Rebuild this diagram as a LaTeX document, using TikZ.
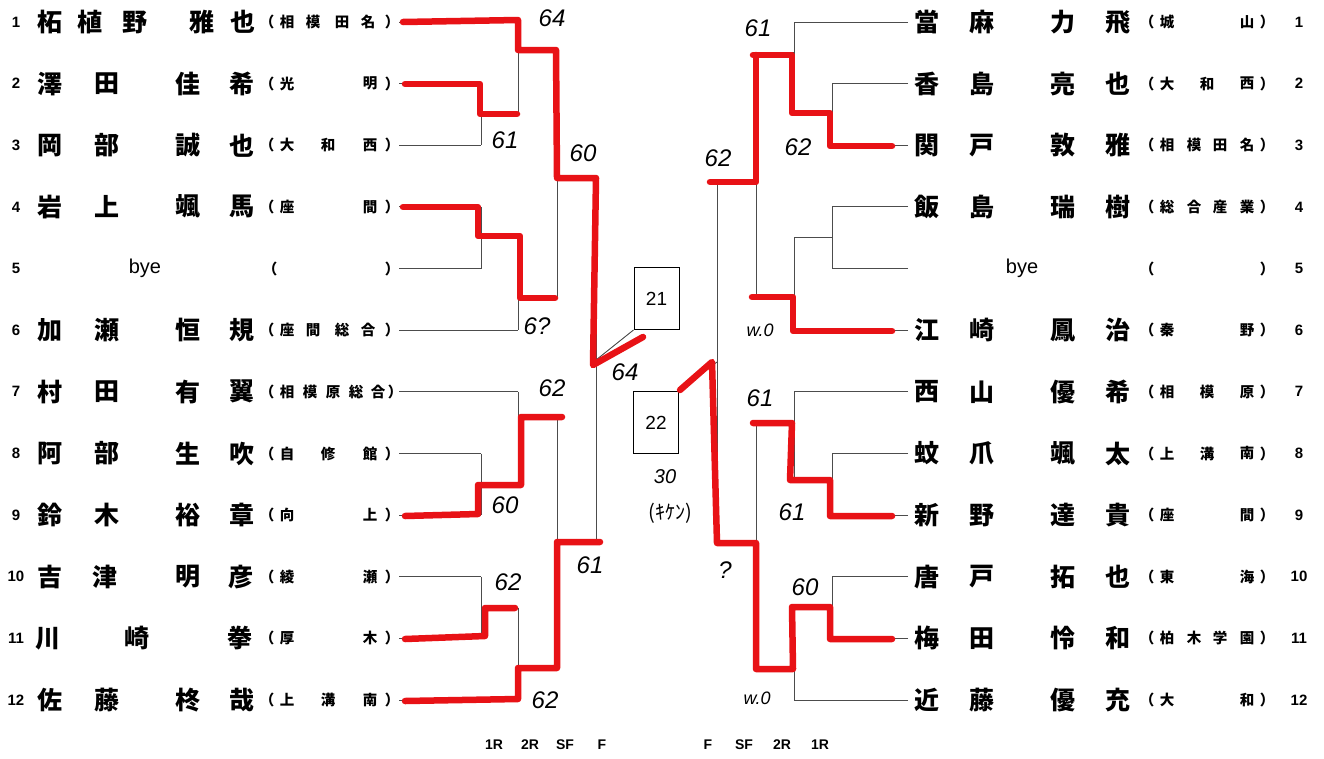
\documentclass[tikz,border=0pt]{standalone}
\usepackage{fontspec}
\setmainfont{Liberation Sans}
\newfontfamily\jp{Noto Sans CJK JP}
\definecolor{pen}{RGB}{232,18,22}
\begin{document}
\begin{tikzpicture}[x=1pt,y=-1pt,
  thin/.style={line width=0.9pt, draw=black!70},
  win/.style={line width=6.5pt, draw=pen, line cap=round, line join=round},
  nm/.style={font=\jp\bfseries\fontsize{25}{25}\selectfont, inner sep=0pt},
  sc/.style={font=\jp\bfseries\fontsize{14.5}{14.5}\selectfont, inner sep=0pt},
  num/.style={font=\bfseries\fontsize{15}{15}\selectfont, inner sep=0pt},
  byeT/.style={font=\fontsize{20}{20}\selectfont, inner sep=0pt},
  score/.style={font=\itshape\fontsize{24}{24}\selectfont, inner sep=0pt},
  rnd/.style={font=\bfseries\fontsize{14}{14}\selectfont, inner sep=0pt},
  boxn/.style={draw=black, line width=1pt, minimum width=45pt, minimum height=62pt, inner sep=0pt, font=\fontsize{19}{19}\selectfont}]
\useasboundingbox (0,0) rectangle (1324,758);
\fill[white] (0,0) rectangle (1324,758);

% ---------- name macros ----------
\newcommand\NameRow[4]{% #1 id, #2 y, #3 name list, #4 school list
  \foreach \xx/\cc [count=\ii] in {#3} \node[nm] (#1n\ii) at (\xx,#2) {\cc};
  \foreach \xx/\cc [count=\ii] in {#4} \node[sc] (#1s\ii) at (\xx,#2) {\cc};}

% ---------- left names ----------
\foreach \n/\y in {1/22,2/83.6,3/145.3,4/206.9,5/268.6,6/330.2,7/391.8,8/453.5,9/515.1,10/576.8,11/638.4,12/700}
  \node[num] (Lnum\n) at (16,\y) {\n};
\NameRow{L1}{22}{50/柘,90/植,135/野,202/雅,243/也}{267/（,287/相,313/模,342/田,368/名,392/）}
\NameRow{L2}{83.6}{50/澤,107/田,188/佳,242/希}{267/（,287/光,370/明,392/）}
\NameRow{L3}{145.3}{50/岡,107/部,188/誠,242/也}{267/（,287/大,328/和,370/西,392/）}
\NameRow{L4}{206.9}{50/岩,107/上,188/颯,242/馬}{267/（,287/座,370/間,392/）}
\node[byeT] (Lbye) at (145,268.6) {bye};
\NameRow{L5}{268.6}{}{270/（,392/）}
\NameRow{L6}{330.2}{50/加,107/瀬,188/恒,242/規}{267/（,287/座,313/間,342/総,368/合,392/）}
\NameRow{L7}{391.8}{50/村,107/田,188/有,242/翼}{267/（,287/相,310/模,333/原,356/総,378/合,395/）}
\NameRow{L8}{453.5}{50/阿,107/部,188/生,242/吹}{267/（,287/自,328/修,370/館,392/）}
\NameRow{L9}{515.1}{50/鈴,107/木,188/裕,242/章}{267/（,287/向,370/上,392/）}
\NameRow{L10}{576.8}{50/吉,105/津,188/明,241/彦}{267/（,287/綾,370/瀬,392/）}
\NameRow{L11}{638.4}{48/川,137/崎,240/拳}{267/（,287/厚,370/木,392/）}
\NameRow{L12}{700}{50/佐,107/藤,188/柊,242/哉}{267/（,287/上,328/溝,370/南,392/）}

% ---------- right names ----------
\foreach \n/\y in {1/22,2/83.6,3/145.3,4/206.9,5/268.6,6/330.2,7/391.8,8/453.5,9/515.1,10/576.8,11/638.4,12/700}
  \node[num] (Rnum\n) at (1299,\y) {\n};
\NameRow{R1}{22}{927/當,982/麻,1063/力,1118/飛}{1147/（,1167/城,1247/山,1267/）}
\NameRow{R2}{83.6}{927/香,982/島,1063/亮,1118/也}{1147/（,1167/大,1207/和,1247/西,1267/）}
\NameRow{R3}{145.3}{927/関,982/戸,1063/敦,1118/雅}{1147/（,1167/相,1194/模,1220/田,1247/名,1267/）}
\NameRow{R4}{206.9}{927/飯,982/島,1063/瑞,1118/樹}{1147/（,1167/総,1194/合,1220/産,1247/業,1267/）}
\node[byeT] (Rbye) at (1022,268.6) {bye};
\NameRow{R5}{268.6}{}{1147/（,1267/）}
\NameRow{R6}{330.2}{927/江,982/崎,1063/鳳,1118/治}{1147/（,1167/秦,1247/野,1267/）}
\NameRow{R7}{391.8}{927/西,982/山,1063/優,1118/希}{1147/（,1167/相,1207/模,1247/原,1267/）}
\NameRow{R8}{453.5}{927/蚊,982/爪,1063/颯,1118/太}{1147/（,1167/上,1207/溝,1247/南,1267/）}
\NameRow{R9}{515.1}{927/新,982/野,1063/達,1118/貴}{1147/（,1167/座,1247/間,1267/）}
\NameRow{R10}{576.8}{927/唐,982/戸,1063/拓,1118/也}{1147/（,1167/東,1247/海,1267/）}
\NameRow{R11}{638.4}{927/梅,982/田,1063/怜,1118/和}{1147/（,1167/柏,1194/木,1220/学,1247/園,1267/）}
\NameRow{R12}{700}{927/近,982/藤,1063/優,1118/充}{1147/（,1167/大,1247/和,1267/）}

% ---------- left bracket (thin) ----------
\foreach \y/\x in {22/518,83.6/481,145.3/481,206.9/481,268.6/481,330.2/518,391.8/518,453.5/481,515.1/481,576.8/481,638.4/481,700/518}
  \draw[thin] (399,\y) -- (\x,\y);
\foreach \a/\b/\o in {83.6/145.3/114,206.9/268.6/237,453.5/515.1/485,576.8/638.4/608}
  {\draw[thin] (481,\a) -- (481,\b); \draw[thin] (481,\o) -- (518,\o);}
\foreach \a/\b/\o in {22/114/50,237/330.2/298,391.8/485/418,608/700/668}
  {\draw[thin] (518,\a) -- (518,\b); \draw[thin] (518,\o) -- (557,\o);}
\foreach \a/\b/\o in {50/298/178,418/668/542}
  {\draw[thin] (557,\a) -- (557,\b); \draw[thin] (557,\o) -- (596,\o);}
\draw[thin] (596,178) -- (596,542);
\coordinate (LF) at (596,360);

% ---------- right bracket (thin) ----------
\foreach \y/\x in {22/794,83.6/832,145.3/832,206.9/832,268.6/832,330.2/794,391.8/794,453.5/832,515.1/832,576.8/832,638.4/832,700/794}
  \draw[thin] (908,\y) -- (\x,\y);
\foreach \a/\b/\o in {83.6/145.3/113,206.9/268.6/237,453.5/515.1/480,576.8/638.4/607}
  {\draw[thin] (832,\a) -- (832,\b); \draw[thin] (832,\o) -- (794,\o);}
\foreach \a/\b/\o in {22/113/52,237/330.2/297,391.8/480/425,607/700/668}
  {\draw[thin] (794,\a) -- (794,\b); \draw[thin] (794,\o) -- (756,\o);}
\foreach \a/\b/\o in {52/297/180,425/668/543}
  {\draw[thin] (756,\a) -- (756,\b); \draw[thin] (756,\o) -- (717,\o);}
\draw[thin] (717,180) -- (717,543);
\coordinate (RF) at (717,362);

% ---------- boxes ----------
\node[boxn] (b21) at (656.5,298.5) {21};
\node[boxn] (b22) at (656,422.5) {22};
\draw[thin] (LF) -- (b21.south west);
\draw[thin] (RF) -- (b22.north east);

% ---------- red winner lines ----------
\draw[win] (403,22) -- (518,20) -- (518,50) -- (556,50) -- (557,178) -- (596,178) -- (593,365) -- (643,337);
\draw[win] (405,84) -- (480,84) -- (480,114) -- (517,114);
\draw[win] (403,207) -- (478,207) -- (478,236) -- (520,236) -- (520,298) -- (555,298);
\draw[win] (405,516) -- (478,514) -- (478,485) -- (521,485) -- (521,417) -- (562,417);
\draw[win] (405,639) -- (485,636) -- (485,608) -- (515,608);
\draw[win] (405,701) -- (518,699) -- (518,668) -- (557,668) -- (557,542) -- (600,542);

\draw[win] (892,146) -- (830,146) -- (830,113) -- (792,113) -- (792,55) -- (753,55);
\draw[win] (756,55) -- (756,182) -- (710,182);
\draw[win] (892,331) -- (793,331) -- (793,297) -- (752,297);
\draw[win] (892,516) -- (830,516) -- (830,480) -- (790,480) -- (792,423) -- (753,423);
\draw[win] (892,639) -- (830,639) -- (830,607) -- (792,607) -- (793,669) -- (756,669) -- (756,543) -- (717,543) -- (712,362) -- (680,390);

% ---------- handwritten scores ----------
\node[score] (s1) at (552,18) {64};
\node[score] (s2) at (505,140) {61};
\node[score] (s3) at (583,153) {60};
\node[score] (s4) at (537,326) {6?};
\node[score] (s5) at (625,372) {64};
\node[score] (s6) at (552,388) {62};
\node[score] (s7) at (505,505) {60};
\node[score] (s8) at (590,565) {61};
\node[score] (s9) at (508,582) {62};
\node[score] (s10) at (545,700) {62};
\node[score] (s11) at (758,28) {61};
\node[score] (s12) at (798,147) {62};
\node[score] (s13) at (718,158) {62};
\node[score,font=\itshape\fontsize{18}{18}\selectfont] (s14) at (760,330) {w.0};
\node[score] (s15) at (760,398) {61};
\node[score,font=\itshape\fontsize{20}{20}\selectfont] (s16) at (665,477) {30};
\node[score,font=\jp\fontsize{20}{20}\selectfont] (s17) at (670,513) {(ｷｹﾝ)};
\node[score] (s18) at (792,512) {61};
\node[score] (s19) at (725,570) {?};
\node[score] (s20) at (805,587) {60};
\node[score,font=\itshape\fontsize{18}{18}\selectfont] (s21) at (757,698) {w.0};

% ---------- round labels ----------
\node[rnd] (l1R) at (494,745) {1R};
\node[rnd] (l2R) at (530,745) {2R};
\node[rnd] (lSF) at (565,745) {SF};
\node[rnd] (lF) at (602,745) {F};
\node[rnd] (rF) at (708,745) {F};
\node[rnd] (rSF) at (744,745) {SF};
\node[rnd] (r2R) at (782,745) {2R};
\node[rnd] (r1R) at (820,745) {1R};
\end{tikzpicture}
\end{document}
